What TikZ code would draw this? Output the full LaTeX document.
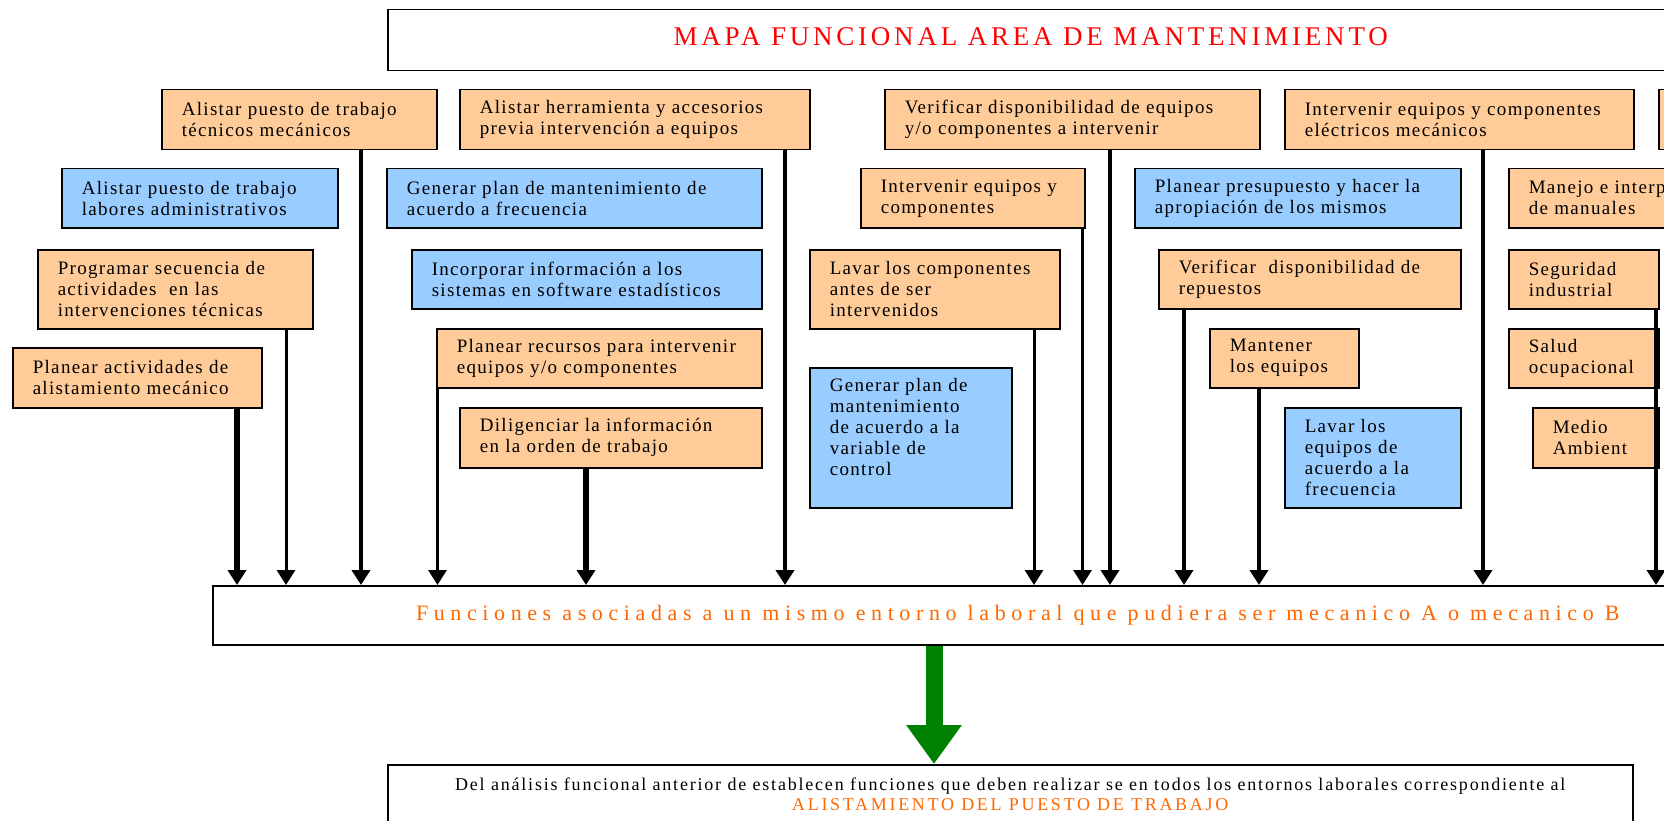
\documentclass[tikz,border=0pt]{standalone}
\usepackage{fontspec}
\setmainfont{Liberation Serif}
\newfontfamily\boxfont{Liberation Serif}[LetterSpace=7]
\newfontfamily\titlefont{Liberation Serif}[LetterSpace=14]
\newfontfamily\funfont{Liberation Serif}[LetterSpace=25.5]
\newfontfamily\concfont{Liberation Serif}[LetterSpace=10]
\newfontfamily\conccaps{Liberation Serif}[LetterSpace=15]
\usetikzlibrary{arrows.meta,positioning}

\definecolor{naranja}{RGB}{255,204,153}
\definecolor{celeste}{RGB}{153,204,255}
\definecolor{rojo}{RGB}{255,0,0}
\definecolor{tinta}{RGB}{255,102,0}
\definecolor{verde}{RGB}{0,128,0}

\tikzset{
  tarea/.style={draw=black, line width=1.5pt, anchor=north west, inner xsep=20pt, inner ysep=2pt,
    align=left, font=\boxfont\fontsize{19}{21}\selectfont},
  naranjabox/.style={tarea, fill=naranja},
  celestebox/.style={tarea, fill=celeste},
  marco/.style={draw=black, line width=1.5pt, anchor=north west},
  flujo/.style={line width=#1, -{Triangle[width=18pt,length=15pt]}},
}

\begin{document}
\begin{tikzpicture}[x=1pt, y=-1pt]
\useasboundingbox (0,0) rectangle (1664,821);
\clip (0,0) rectangle (1664,821);
% Titulo
\node[marco, minimum width=1286pt, minimum height=61pt, text=rojo, text depth=8pt,
  font=\titlefont\fontsize{27}{30}\selectfont] (titulo) at (387,9) {MAPA FUNCIONAL AREA DE MANTENIMIENTO};

% Fila 1
\node[naranjabox, minimum width=275pt, minimum height=60pt, text width=235pt] (A) at (161,89) {Alistar puesto de trabajo\\técnicos mecánicos};
\node[naranjabox, minimum width=350pt, minimum height=60pt, text width=310pt] (B) at (459,89) {Alistar herramienta y accesorios\\previa intervención a equipos};
\node[naranjabox, minimum width=375pt, minimum height=60pt, text width=335pt] (C) at (884,89) {Verificar disponibilidad de equipos\\y/o componentes a intervenir};
\node[naranjabox, minimum width=349pt, minimum height=60pt, text width=309pt] (D) at (1284,89) {Intervenir equipos y componentes\\eléctricos mecánicos};
\node[naranjabox, minimum width=80pt, minimum height=60pt, text width=40pt] (E) at (1658,89) {};

% Fila 2
\node[celestebox, minimum width=276pt, minimum height=59pt, text width=236pt] (F) at (61,168) {Alistar puesto de trabajo\\labores administrativos};
\node[celestebox, minimum width=375pt, minimum height=59pt, text width=335pt] (G) at (386,168) {Generar plan de mantenimiento de\\acuerdo a frecuencia};
\node[naranjabox, minimum width=224pt, minimum height=59pt, text width=184pt] (H) at (860,168) {Intervenir equipos y\\componentes};
\node[celestebox, minimum width=326pt, minimum height=59pt, text width=286pt] (I) at (1134,168) {Planear presupuesto y hacer la\\apropiación de los mismos};
\node[naranjabox, minimum width=220pt, minimum height=59pt, text width=180pt] (J) at (1508,168) {Manejo e interp\\de manuales};

% Fila 3
\node[naranjabox, minimum width=275pt, minimum height=79pt, text width=235pt] (K) at (37,249) {Programar secuencia de\\actividades \ en las\\intervenciones técnicas};
\node[celestebox, minimum width=350pt, minimum height=59pt, text width=310pt] (L) at (411,249) {Incorporar información a los\\sistemas en software estadísticos};
\node[naranjabox, minimum width=250pt, minimum height=79pt, text width=210pt] (M) at (809,249) {Lavar los componentes\\antes de ser\\intervenidos};
\node[naranjabox, minimum width=302pt, minimum height=59pt, text width=262pt] (N) at (1158,249) {Verificar \ disponibilidad de\\repuestos};
\node[naranjabox, minimum width=150pt, minimum height=59pt, text width=110pt] (O) at (1508,249) {Seguridad\\industrial};

% Fila 4
\node[naranjabox, minimum width=249pt, minimum height=60pt, text width=209pt] (P) at (12,347) {Planear actividades de\\alistamiento mecánico};
\node[naranjabox, minimum width=325pt, minimum height=59pt, text width=285pt] (Q) at (436,328) {Planear recursos para intervenir\\equipos y/o componentes};
\node[naranjabox, minimum width=149pt, minimum height=59pt, text width=109pt] (R) at (1209,328) {Mantener\\los equipos};
\node[naranjabox, minimum width=150pt, minimum height=59pt, text width=110pt] (S) at (1508,328) {Salud\\ocupacional};

% Fila 5
\node[naranjabox, minimum width=302pt, minimum height=60pt, text width=262pt] (T) at (459,407) {Diligenciar la información\\en la orden de trabajo};
\node[celestebox, minimum width=202pt, minimum height=140pt, text width=162pt] (U) at (809,367) {Generar plan de\\mantenimiento\\de acuerdo a la\\variable de\\control\\ \mbox{}};
\node[celestebox, minimum width=176pt, minimum height=100pt, text width=136pt] (V) at (1284,407) {Lavar los\\equipos de\\acuerdo a la\\frecuencia};
\node[naranjabox, minimum width=126pt, minimum height=60pt, text width=86pt] (W) at (1532,407) {Medio\\Ambient};

% Funciones comunes
\node[marco, minimum width=1610pt, minimum height=59pt, text=tinta,
  font=\funfont\fontsize{22}{24}\selectfont] (funciones) at (212,585) {Funciones asociadas a un mismo entorno laboral que pudiera ser mecanico A o mecanico B};

% Flechas hacia funciones
\foreach \n/\x/\w in {P/237/5.5pt, K/286/3pt, A/361/4.5pt, Q/437.5/3pt, T/586/5.5pt, B/785/4.5pt,
    M/1034/3pt, H/1082.5/3pt, C/1110/4.5pt, N/1184/4.5pt, R/1259/4.5pt, D/1483/4.5pt, O/1656/4.5pt}
  \draw[flujo=\w] (\n.south -| \x,0) -- (funciones.north -| \x,0);

% Conclusion
\node[marco, minimum width=1245pt, minimum height=90pt] (conclusion) at (387,764) {};
\node[anchor=north, align=center, inner sep=0pt, font=\concfont\fontsize{18}{20}\selectfont] (conctexto)
  at ([yshift=-14pt]conclusion.north) {Del análisis funcional anterior de establecen funciones que deben realizar se en todos los entornos laborales correspondiente al\\
  {\conccaps\color{tinta}ALISTAMIENTO DEL PUESTO DE TRABAJO}};
\coordinate (eje) at (934,0);
\draw[verde, line width=17pt, -{Triangle[width=53pt,length=39pt]}] (funciones.south -| eje) -- (conclusion.north -| eje);
\end{tikzpicture}
\end{document}
